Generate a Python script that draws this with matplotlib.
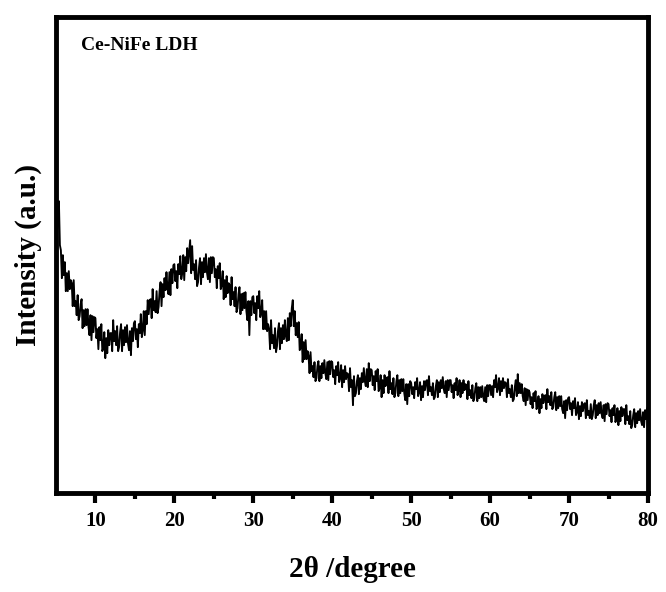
import numpy as np
import matplotlib.pyplot as plt

plt.rcParams['font.family'] = ['Liberation Serif', 'DejaVu Serif']
plt.rcParams['font.weight'] = 'bold'

# 2theta from 5 to 80 deg, step 0.125 deg
two_theta = np.arange(5.0, 80.001, 0.125)

# intensity (a.u.), 8 points per degree
intensity = [
    250, 262, 270, 292, 248, 243, 215, 238,   # 5
    218, 231, 202, 220, 202, 222, 204, 213,   # 6
    210, 187, 213, 187, 192, 178, 198, 173,   # 7
    177, 189, 194, 165, 183, 167, 184, 168,   # 8
    184, 166, 158, 178, 153, 177, 161, 176,   # 9
    175, 155, 164, 144, 166, 153, 169, 142,   # 10
    145, 161, 135, 155, 140, 163, 148, 160,   # 11
    160, 142, 173, 152, 162, 148, 167, 142,   # 12
    146, 161, 169, 142, 163, 148, 166, 151,   # 13
    168, 150, 143, 162, 138, 165, 152, 170,   # 14
    172, 154, 164, 146, 169, 160, 179, 156,   # 15
    163, 182, 158, 182, 169, 193, 179, 193,   # 16
    194, 175, 204, 183, 192, 181, 202, 180,   # 17
    186, 202, 211, 187, 209, 196, 215, 203,   # 18
    221, 205, 199, 221, 198, 224, 210, 228,   # 19
    229, 212, 222, 205, 229, 219, 237, 214,   # 20
    220, 238, 213, 236, 222, 245, 230, 242,   # 21
    253, 220, 247, 223, 229, 214, 233, 207,   # 22
    211, 226, 235, 209, 231, 216, 235, 221,   # 23
    239, 221, 214, 235, 211, 236, 220, 236,   # 24
    235, 216, 224, 205, 227, 215, 230, 204,   # 25
    208, 222, 194, 213, 196, 217, 200, 210,   # 26
    208, 188, 216, 194, 201, 187, 206, 181,   # 27
    185, 199, 206, 179, 199, 183, 200, 185,   # 28
    201, 182, 173, 192, 158, 192, 178, 196,   # 29
    197, 180, 190, 173, 197, 185, 202, 176,   # 30
    180, 193, 164, 182, 164, 182, 162, 169,   # 31
    164, 144, 173, 150, 158, 145, 165, 141,   # 32
    147, 162, 170, 144, 165, 150, 168, 154,   # 33
    173, 157, 152, 175, 153, 180, 167, 185,   # 34
    193, 167, 182, 158, 170, 156, 171, 143,   # 35
    145, 159, 131, 151, 134, 153, 134, 142,   # 36
    137, 120, 141, 122, 127, 116, 131, 112,   # 37
    115, 127, 132, 112, 127, 115, 130, 120,   # 38
    133, 120, 114, 131, 113, 132, 119, 132,   # 39
    131, 116, 123, 109, 127, 118, 131, 111,   # 40
    115, 128, 106, 123, 111, 127, 114, 120,   # 41
    119, 102, 125, 106, 113, 88, 117, 97,     # 42
    100, 112, 118, 99, 115, 104, 120, 111,    # 43
    125, 112, 107, 124, 106, 130, 112, 124,   # 44
    123, 108, 117, 103, 122, 112, 124, 102,   # 45
    105, 118, 96, 113, 100, 118, 107, 115,    # 46
    116, 100, 122, 104, 110, 99, 115, 96,     # 47
    100, 112, 118, 97, 113, 100, 114, 102,    # 48
    114, 100, 93, 109, 89, 109, 97, 112,      # 49
    110, 99, 106, 95, 111, 104, 115, 97,      # 50
    101, 111, 93, 107, 96, 112, 103, 112,     # 51
    113, 98, 117, 102, 106, 98, 110, 94,      # 52
    96, 107, 113, 96, 111, 101, 113, 105,     # 53
    116, 104, 100, 112, 96, 113, 103, 113,    # 54
    113, 101, 108, 95, 110, 103, 115, 98,     # 55
    103, 113, 96, 110, 100, 113, 103, 109,    # 56
    108, 94, 112, 98, 103, 95, 108, 92,       # 57
    95, 105, 110, 92, 106, 95, 106, 96,       # 58
    107, 96, 92, 106, 91, 108, 97, 108,       # 59
    108, 98, 107, 96, 113, 106, 118, 101,     # 60
    105, 115, 98, 112, 102, 115, 105, 111,    # 61
    110, 96, 114, 100, 104, 96, 108, 92,      # 62
    94, 106, 113, 97, 119, 100, 110, 100,     # 63
    109, 97, 92, 105, 88, 104, 93, 103,       # 64
    101, 89, 96, 85, 100, 92, 102, 84,        # 65
    87, 97, 80, 94, 85, 99, 90, 97,           # 66
    98, 84, 104, 91, 97, 88, 101, 84,         # 67
    86, 96, 101, 83, 96, 85, 97, 87,          # 68
    97, 84, 80, 92, 75, 93, 83, 95,           # 69
    96, 84, 90, 78, 92, 85, 95, 78,           # 70
    81, 91, 74, 87, 77, 91, 82, 89,           # 71
    90, 75, 93, 78, 82, 75, 89, 74,           # 72
    78, 88, 93, 75, 88, 78, 90, 80,           # 73
    91, 79, 75, 88, 72, 89, 79, 90,           # 74
    89, 77, 83, 71, 85, 78, 88, 71,           # 75
    75, 85, 68, 82, 72, 86, 77, 84,           # 76
    84, 69, 88, 73, 77, 69, 82, 65,           # 77
    68, 78, 84, 66, 80, 70, 82, 73,           # 78
    84, 72, 68, 81, 66, 83, 74, 85,           # 79
    77,                                       # 80
]

sample_label = "Ce-NiFe LDH"
x_ticks = [10, 20, 30, 40, 50, 60, 70, 80]

fig = plt.figure(figsize=(6.66, 5.92), dpi=100)
ax = fig.add_axes([0.084, 0.167, 0.889, 0.804])

ax.plot(two_theta, intensity, color="black", lw=1.35)

ax.set_xlim(5, 80)
ax.set_ylim(0, 476)
ax.set_xticks(x_ticks)
ax.set_xticks(np.arange(15, 80, 10), minor=True)
ax.set_yticks([])

for s in ax.spines.values():
    s.set_linewidth(3.5)

ax.tick_params(axis="x", which="major", direction="out", length=7, width=3,
               labelsize=15, pad=6)
ax.tick_params(axis="x", which="minor", direction="out", length=4, width=3)
for lab in ax.get_xticklabels():
    lab.set_fontweight("bold")

ax.set_xlabel("2\u03b8 /degree", fontsize=21, fontweight="bold", labelpad=18)
ax.set_ylabel("Intensity (a.u.)", fontsize=21, fontweight="bold", labelpad=10)

ax.text(0.043, 0.94, sample_label, transform=ax.transAxes,
        fontsize=14, fontweight="bold", va="center", ha="left")

plt.savefig("out.png", dpi=100)
plt.close()
